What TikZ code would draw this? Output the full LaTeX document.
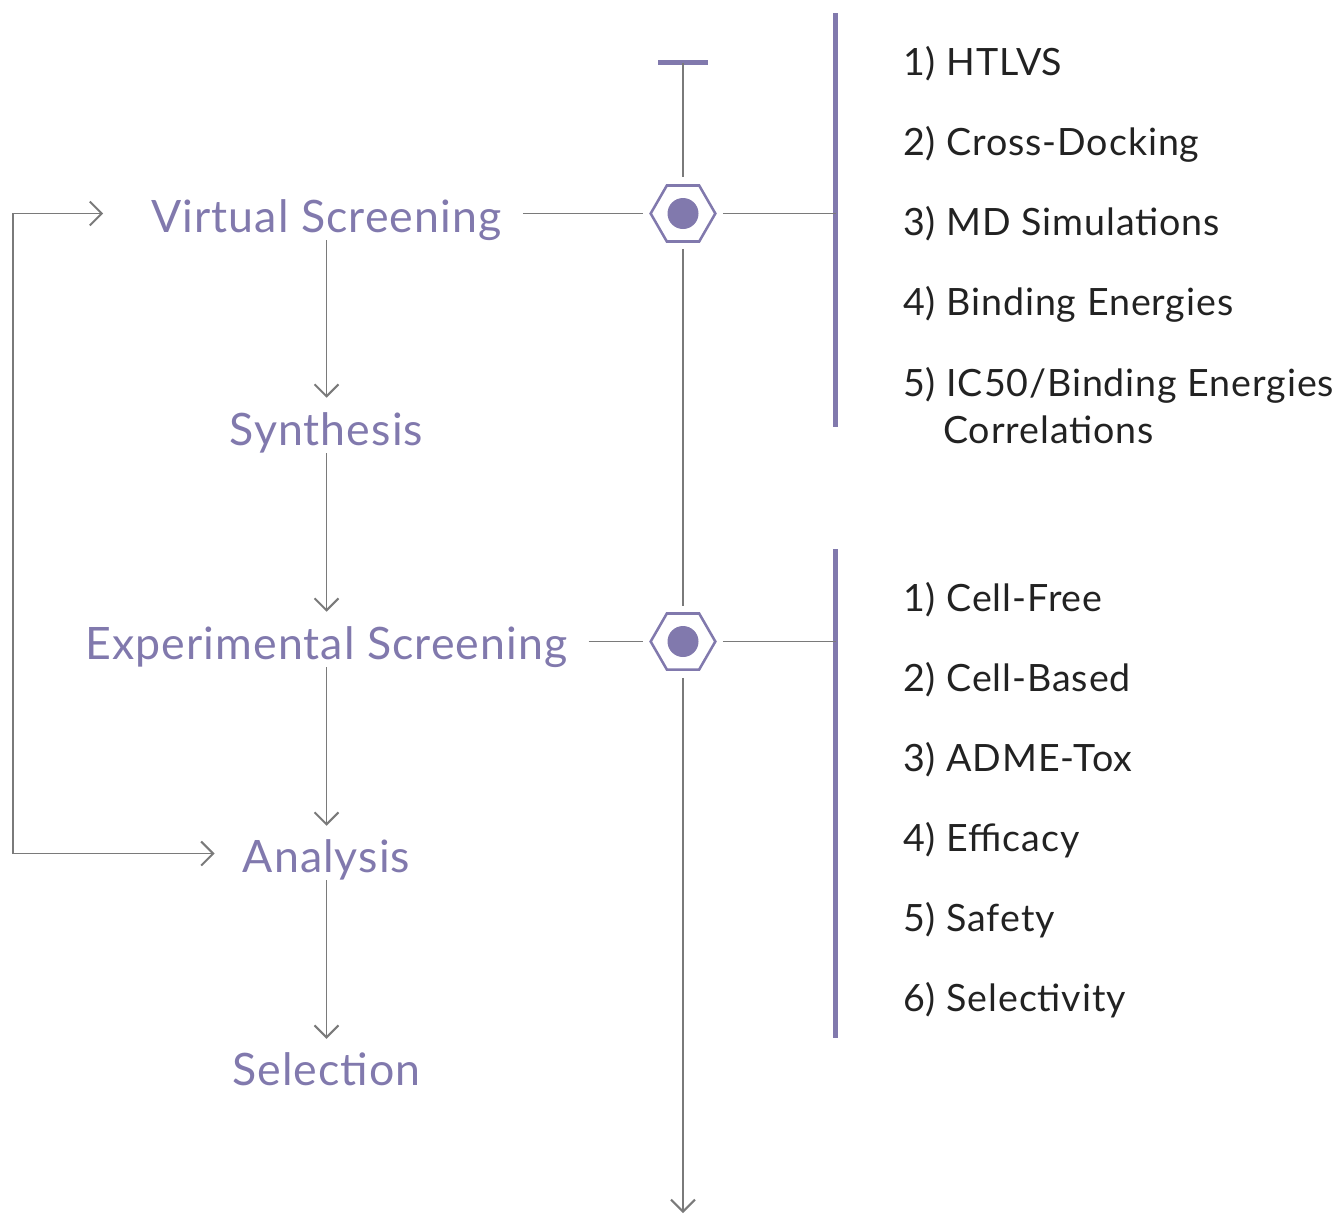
\documentclass[tikz,border=0pt]{standalone}
\usepackage{fontspec}
\setmainfont{Lato}[LetterSpace=2.4]
\usetikzlibrary{arrows.meta,shapes.geometric}
\definecolor{pur}{HTML}{8179AD}
\definecolor{gr}{HTML}{7A7A7A}
\definecolor{txt}{HTML}{222222}
\begin{document}
\begin{tikzpicture}[x=0.75pt,y=-0.75pt,
  stage/.style={font=\fontsize{33.5}{40}\selectfont, text=pur, anchor=base,
    inner ysep=0pt, inner xsep=15.75pt, text height=33.75pt, text depth=6pt},
  item/.style={font=\fontsize{28.2}{34}\selectfont, text=txt, anchor=base west, inner sep=0pt},
  hex/.style={regular polygon, regular polygon sides=6, minimum size=48.5pt,
    inner sep=0pt, draw=pur, line width=1.9pt},
  dot/.style={circle, fill=pur, minimum size=23.25pt, inner sep=0pt},
  ln/.style={draw=gr, line width=1.1pt},
  arr/.style={ln, -{Straight Barb[length=9pt,width=18pt,line width=1.5pt]}},
  bar/.style={draw=pur, line width=3.75pt}
]
\useasboundingbox (0,0) rectangle (1337,1215);

% stages
\node[stage] (vs)  at (326.5,232)  {Virtual Screening};
\node[stage] (syn) at (326.5,445)  {Synthesis};
\node[stage] (es)  at (326.5,659)  {Experimental Screening};
\node[stage] (an)  at (326.5,872)  {Analysis};
\node[stage] (sel) at (326.5,1085) {Selection};

\draw[arr, shorten >=1.5pt] (vs.south) -- (syn.north);
\draw[arr, shorten >=1.5pt] (syn.south) -- (es.north);
\draw[arr, shorten >=0.75pt] (es.south) -- (an.north);
\draw[arr, shorten >=0.75pt] (an.south) -- (sel.north);

% loop
\coordinate (lx) at (13,0);
\draw[ln, {Straight Barb[length=9pt,width=18pt,line width=1.5pt]}-{Straight Barb[length=9pt,width=18pt,line width=1.5pt]},
  shorten <=20.25pt, shorten >=5.25pt]
  (vs.west) -- (vs.west -| lx) -- (an.west -| lx) -- (an.west);

% timeline
\coordinate (top) at (683,62.5);
\coordinate (bot) at (683,1213);
\draw[bar] ([xshift=-18.75pt]top) -- ([xshift=18.75pt]top);
\node[hex] (h1) at (683,213.5) {};
\node[dot] (d1) at (h1.center) {};
\node[hex] (h2) at (683,641.5) {};
\node[dot] (d2) at (h2.center) {};

\draw[ln, shorten >=5.25pt] (top) -- (h1.north);
\draw[ln, shorten <=4.5pt, shorten >=4.5pt] (h1.south) -- (h2.north);
\draw[arr, shorten <=5.25pt] (h2.south) -- (bot);

\draw[ln, shorten >=4.5pt] (h1.west -| vs.east) -- (h1.west);
\draw[ln, shorten >=4.5pt] (h2.west -| es.east) -- (h2.west);

% bars
\coordinate (b1t) at (835.5,13);
\coordinate (b1b) at (835.5,427);
\coordinate (b2t) at (835.5,549);
\coordinate (b2b) at (835.5,1038);
\draw[bar] (b1t) -- (b1b);
\draw[bar] (b2t) -- (b2b);
\draw[ln, shorten <=4.5pt] (h1.east) -- (h1.east -| b1t);
\draw[ln, shorten <=4.5pt] (h2.east) -- (h2.east -| b2t);

% lists
\node[item] (v1) at (903,75)  {1) HTLVS};
\node[item] (v2) at (903,155) {2) Cross-Docking};
\node[item] (v3) at (903,235) {3) MD Simulations};
\node[item] (v4) at (903,315) {4) Binding Energies};
\node[item] (v5) at (903,396) {5) IC50/Binding Energies};
\node[item] (v5b) at (943,443) {Correlations};

\node[item] (e1) at (903,611)  {1) Cell-Free};
\node[item] (e2) at (903,691)  {2) Cell-Based};
\node[item] (e3) at (903,771)  {3) ADME-Tox};
\node[item] (e4) at (903,851)  {4) Efficacy};
\node[item] (e5) at (903,931)  {5) Safety};
\node[item] (e6) at (903,1011) {6) Selectivity};
\end{tikzpicture}
\end{document}
